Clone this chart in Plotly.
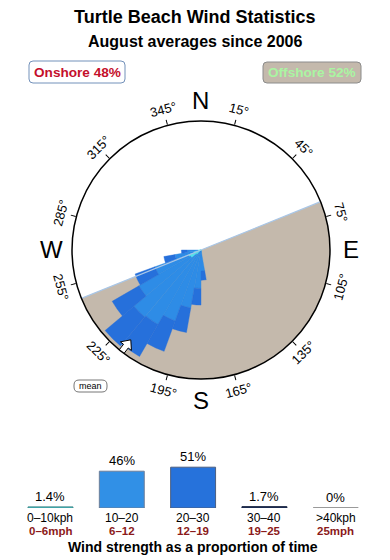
import math
import plotly.graph_objects as go

W, H = 390, 560
FONT = "Liberation Sans, Arial, Helvetica, sans-serif"

# ---------------- data ----------------
# wind rose: % of time per 10° direction bin, by speed band
directions = [175, 185, 195, 205, 215, 225, 235, 245, 255, 265]
speed_0_10 = [0.1, 0.1, 0.1, 0.2, 0.3, 0.8, 1.6, 1.8, 1.0, 0.4]
speed_10_20 = [2.7, 5.0, 7.7, 9.8, 11.1, 10.8, 7.9, 4.7, 2.5, 1.4]
speed_20_30 = [1.2, 2.2, 3.3, 4.3, 4.9, 5.0, 4.1, 2.8, 1.5, 0.8]
bin_width = 10
offshore_from, offshore_to = 68, 248
mean_direction = 218

# speed histogram
speed_kph = ["0–10kph", "10–20", "20–30", "30–40", ">40kph"]
speed_mph = ["0–6mph", "6–12", "12–19", "19–25", "25mph"]
speed_share = [1.4, 46, 51, 1.7, 0]
speed_share_text = ["1.4%", "46%", "51%", "1.7%", "0%"]
onshore_pct, offshore_pct = 48, 52
compass_ticks = list(range(15, 360, 30))
cardinals = [("N", 0), ("E", 90), ("S", 180), ("W", 270)]

# ---------------- styling / geometry ----------------
cx, cy, R = 201, 250, 129          # polar centre (px from top-left) and radius
r_max = 17.1                        # radial range
px2r = r_max / R
C_CYAN, C_LIGHT, C_DARK = "#4fe3ee", "#2e8ce6", "#2670db"
C_OFF = "#c4b9ac"

fig = go.Figure()

# offshore half disk
fig.add_trace(go.Barpolar(
    r=[r_max], theta=[(offshore_from + offshore_to) / 2],
    width=[offshore_to - offshore_from],
    marker=dict(color=C_OFF, line=dict(width=0)),
    hoverinfo="skip", showlegend=False))
fig.add_trace(go.Scatterpolar(
    r=[r_max, 0, r_max], theta=[offshore_from, offshore_from, offshore_to],
    mode="lines", line=dict(color="#a9c6e6", width=1.2),
    hoverinfo="skip", showlegend=False))

# rose petals
base_light = speed_0_10
base_dark = [a + b for a, b in zip(speed_0_10, speed_10_20)]
for vals, base, col in [(speed_0_10, [0] * len(directions), C_CYAN),
                        (speed_10_20, base_light, C_LIGHT),
                        (speed_20_30, base_dark, C_DARK)]:
    fig.add_trace(go.Barpolar(
        r=vals, base=base, theta=directions, width=[bin_width] * len(directions),
        marker=dict(color=col, line=dict(width=0.4, color=col)),
        hoverinfo="skip", showlegend=False))

# mean arrow (pointing inward)
def pt(rpx, off):
    rr = math.hypot(rpx, off)
    return rr * px2r, mean_direction + math.degrees(math.atan2(off, rpx))

arrow_pts = [pt(114, 0), pt(122, -7), pt(122, -3), pt(131, -3), pt(131, 3),
             pt(122, 3), pt(122, 7), pt(114, 0)]
fig.add_trace(go.Scatterpolar(
    r=[p[0] for p in arrow_pts], theta=[p[1] for p in arrow_pts],
    mode="lines", fill="toself", fillcolor="white",
    line=dict(color="black", width=1), hoverinfo="skip", showlegend=False))

# speed histogram
bar_fill = ["#44d6e0", "#3190e6", "#2672db", "#1d3566", "#b0b0b0"]
bar_line = ["#3f8c8c", "#6d7f99", "#4c5f80", "#1a2440", "#9a9a9a"]
xs = list(range(len(speed_share)))
fig.add_trace(go.Bar(
    x=xs, y=speed_share, width=0.63, xaxis="x", yaxis="y",
    marker=dict(color=bar_fill, line=dict(color=bar_line, width=1)),
    hoverinfo="skip", showlegend=False))

annotations = []
shapes = []
for i in xs:
    shapes.append(dict(type="line", xref="x", yref="y", x0=i - 0.315, x1=i + 0.315,
                       y0=0, y1=0, line=dict(color=bar_line[i], width=2), layer="below"))
    annotations.append(dict(x=i, y=speed_share[i], xref="x", yref="y", text=speed_share_text[i],
                            showarrow=False, yanchor="bottom", yshift=1,
                            font=dict(family=FONT, size=13, color="black")))
    annotations.append(dict(x=i, y=0, xref="x", yref="y", text=speed_kph[i],
                            showarrow=False, yanchor="middle", yshift=-10,
                            font=dict(family=FONT, size=12, color="black")))
    annotations.append(dict(x=i, y=0, xref="x", yref="y", text="<b>" + speed_mph[i] + "</b>",
                            showarrow=False, yanchor="middle", yshift=-23,
                            font=dict(family=FONT, size=11.5, color="#8b1a1a")))


def P(xpx, ypx):
    return xpx / W, 1 - ypx / H


def text_at(xpx, ypx, text, size, color="black", angle=0, bold=False):
    x, y = P(xpx, ypx)
    annotations.append(dict(x=x, y=y, xref="paper", yref="paper", showarrow=False,
                            text=("<b>%s</b>" % text) if bold else text,
                            textangle=angle, xanchor="center", yanchor="middle",
                            font=dict(family=FONT, size=size, color=color)))


def rounded_rect(x0, y0, x1, y1, rad, fill, line, lw=1):
    ax, ay = rad / W, rad / H
    X0, Y1 = P(x0, y0)
    X1, Y0 = P(x1, y1)
    path = (f"M{X0+ax},{Y0} L{X1-ax},{Y0} Q{X1},{Y0} {X1},{Y0+ay} L{X1},{Y1-ay} "
            f"Q{X1},{Y1} {X1-ax},{Y1} L{X0+ax},{Y1} Q{X0},{Y1} {X0},{Y1-ay} "
            f"L{X0},{Y0+ay} Q{X0},{Y0} {X0+ax},{Y0} Z")
    shapes.append(dict(type="path", xref="paper", yref="paper", path=path,
                       fillcolor=fill, line=dict(color=line, width=lw), layer="above"))


# titles
text_at(195, 17, "Turtle Beach Wind Statistics", 18, bold=True)
text_at(195, 42, "August averages since 2006", 16, bold=True)
text_at(193, 547, "Wind strength as a proportion of time", 14, bold=True)

# onshore / offshore boxes
rounded_rect(29, 61, 125, 83, 4, "white", "#7391ba")
text_at(77, 72.5, f"Onshore {onshore_pct}%", 13.6, color="#c40f2b", bold=True)
rounded_rect(263, 62, 361, 83, 4, C_OFF, "#8c8c8c")
text_at(312, 72.5, f"Offshore {offshore_pct}%", 13.6, color="#aaf5a2", bold=True)

# mean label
rounded_rect(74, 380, 107, 392, 5, "white", "#777777")
text_at(90.5, 386, "mean", 9)

# compass labels
for b in compass_ticks:
    rad = math.radians(b)
    ang = b if b < 90 else (b - 360 if b > 270 else b - 180)
    text_at(cx + 145 * math.sin(rad), cy - 145 * math.cos(rad), f"{b}°", 13, angle=ang)
for name, b in cardinals:
    rad = math.radians(b)
    text_at(cx + 150 * math.sin(rad), cy - 150 * math.cos(rad), name, 24)

fig.update_layout(
    width=W, height=H, margin=dict(l=0, r=0, t=0, b=0),
    paper_bgcolor="white", plot_bgcolor="white",
    polar=dict(
        domain=dict(x=[(cx - R) / W, (cx + R) / W], y=[(H - cy - R) / H, (H - cy + R) / H]),
        bgcolor="white", barmode="overlay", bargap=0,
        radialaxis=dict(visible=False, range=[0, r_max]),
        angularaxis=dict(rotation=90, direction="clockwise", showgrid=False,
                         showline=True, linecolor="black", linewidth=1.5,
                         ticks="outside", ticklen=5, tickwidth=1, tickcolor="black",
                         tickmode="array", tickvals=compass_ticks, showticklabels=False),
    ),
    xaxis=dict(domain=[0, 1], range=[-0.708, 4.761], visible=False, fixedrange=True),
    yaxis=dict(domain=[52 / H, 132 / H], range=[0, 100], visible=False, fixedrange=True),
    annotations=annotations, shapes=shapes, showlegend=False,
)

fig.write_html("out.html")
